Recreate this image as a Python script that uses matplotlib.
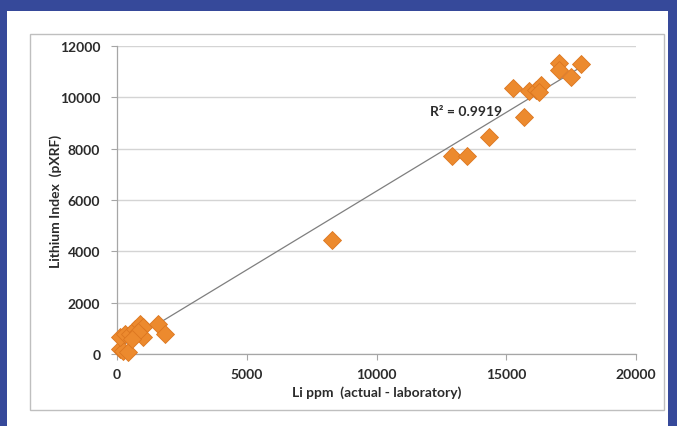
import numpy as np
import matplotlib.pyplot as plt
from matplotlib.patches import Rectangle

# laboratory Li (ppm) vs pXRF lithium index
li_ppm = [120, 230, 420, 115, 310, 500, 690, 885, 1000, 1000, 810, 1580, 1850, 580,
          8270, 12920, 13500, 14350, 15690, 15270, 15880, 16150, 16350, 16270,
          17040, 17040, 17500, 17880]
li_index = [190, 120, 80, 660, 780, 780, 970, 1160, 1050, 660, 850, 1160, 780, 580,
            4460, 7720, 7720, 8460, 9240, 10350, 10250, 10290, 10480, 10200,
            11330, 11060, 10780, 11280]
r2_label = "R² = 0.9919"

x_ticks = [0, 5000, 10000, 15000, 20000]
y_ticks = [0, 2000, 4000, 6000, 8000, 10000, 12000]

BLUE = "#36499a"
ORANGE = "#ec8a2e"
GRID = "#d4d4d4"
AXIS = "#a6a6a6"
TEXT = "#2b2b2b"

plt.rcParams["font.family"] = ["Lato", "DejaVu Sans"]

fig = plt.figure(figsize=(6.77, 4.27), dpi=100, facecolor=BLUE)
W, H = 677, 427

# white page inside the blue frame
fig.patches.append(Rectangle((7 / W, 0), (668 - 7) / W, (427 - 12) / H,
                             transform=fig.transFigure, facecolor="white",
                             edgecolor="none", zorder=-2))
# chart border
fig.patches.append(Rectangle((30 / W, 1 - 411 / H), (664 - 30) / W, (411 - 35) / H,
                             transform=fig.transFigure, facecolor="white",
                             edgecolor="#bfbfbf", linewidth=1.0, zorder=-1))

ax = fig.add_axes([117 / W, 1 - 355 / H, (636 - 117) / W, (355 - 47) / H])
ax.set_facecolor("none")
ax.set_xlim(0, 20000)
ax.set_ylim(0, 12000)
ax.set_xticks(x_ticks)
ax.set_yticks(y_ticks)

ax.grid(axis="y", color=GRID, linewidth=1.0)
ax.set_axisbelow(True)
for side in ["top", "right"]:
    ax.spines[side].set_visible(False)
for side in ["left", "bottom"]:
    ax.spines[side].set_color(AXIS)
    ax.spines[side].set_linewidth(0.9)
ax.tick_params(axis="both", direction="out", length=4, color=AXIS,
               labelsize=10, labelcolor=TEXT)
ax.tick_params(axis="y", pad=8)
ax.tick_params(axis="x", pad=6)
for lab in ax.get_xticklabels() + ax.get_yticklabels():
    lab.set_fontweight("bold")

# linear trendline (least squares)
x = np.array(li_ppm, dtype=float)
y = np.array(li_index, dtype=float)
slope, intercept = np.polyfit(x, y, 1)
xs = np.array([x.min(), x.max()])
ax.plot(xs, slope * xs + intercept, color="#7f7f7f", linewidth=0.9, zorder=3)

ax.plot(x, y, linestyle="none", marker="D", markersize=9.5,
        markerfacecolor=ORANGE, markeredgecolor="#dc7620", markeredgewidth=0.6,
        zorder=4, clip_on=False)

ax.text(12050, 9450, r2_label, fontsize=10, fontweight="bold", color=TEXT,
        ha="left", va="center")

ax.set_xlabel("Li ppm  (actual - laboratory)", fontsize=10, fontweight="bold",
              color=TEXT, labelpad=4)
ax.set_ylabel("Lithium Index  (pXRF)", fontsize=10, fontweight="bold",
              color=TEXT)
ax.yaxis.set_label_coords(-0.106, 0.5)

fig.savefig("out.png", dpi=100, facecolor=BLUE)
